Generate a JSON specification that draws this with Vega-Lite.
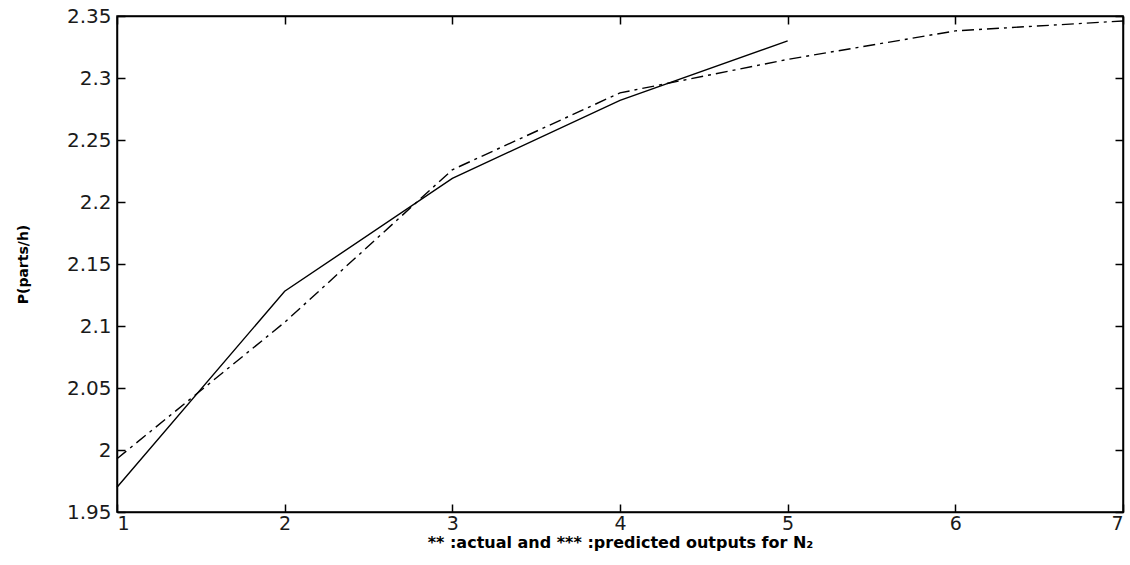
{
  "$schema": "https://vega.github.io/schema/vega-lite/v6.json",
  "width": 1006,
  "height": 496,
  "autosize": "none",
  "padding": {"left": 117, "top": 16, "right": 7, "bottom": 53},
  "background": "white",
  "config": {
    "view": {"stroke": "black", "strokeWidth": 1.5},
    "axis": {
      "grid": false,
      "domainColor": "black",
      "domainWidth": 1.5,
      "tickColor": "black",
      "tickWidth": 1.5,
      "labelFont": "DejaVu Sans",
      "labelFontSize": 20,
      "labelColor": "#1a1a1a",
      "titleFont": "DejaVu Sans",
      "titleFontWeight": "bold",
      "titleColor": "black"
    }
  },
  "data": {
    "values": [
      {"x": 1, "y": 1.970, "series": "actual"},
      {"x": 2, "y": 2.128, "series": "actual"},
      {"x": 3, "y": 2.219, "series": "actual"},
      {"x": 4, "y": 2.282, "series": "actual"},
      {"x": 5, "y": 2.330, "series": "actual"},
      {"x": 1, "y": 1.993, "series": "predicted"},
      {"x": 2, "y": 2.103, "series": "predicted"},
      {"x": 3, "y": 2.226, "series": "predicted"},
      {"x": 4, "y": 2.288, "series": "predicted"},
      {"x": 5, "y": 2.315, "series": "predicted"},
      {"x": 6, "y": 2.338, "series": "predicted"},
      {"x": 7, "y": 2.346, "series": "predicted"}
    ]
  },
  "resolve": {"axis": {"x": "independent", "y": "independent"}},
  "layer": [
    {
      "transform": [{"filter": "datum.series === 'actual'"}],
      "mark": {"type": "line", "color": "black", "strokeWidth": 1.4},
      "encoding": {
        "x": {
          "field": "x", "type": "quantitative",
          "scale": {"domain": [1, 7], "nice": false, "zero": false},
          "axis": {
            "values": [1, 2, 3, 4, 5, 6, 7], "format": "d",
            "tickSize": -8, "labelPadding": 10, "labelFontSize": 19,
            "title": "** :actual and *** :predicted outputs for N₂",
            "titleFontSize": 16, "titlePadding": 1
          }
        },
        "y": {
          "field": "y", "type": "quantitative",
          "scale": {"domain": [1.95, 2.35], "nice": false, "zero": false},
          "axis": {
            "values": [1.95, 2, 2.05, 2.1, 2.15, 2.2, 2.25, 2.3, 2.35], "format": "~g",
            "tickSize": -8, "labelPadding": 14,
            "title": "P(parts/h)", "titleFontSize": 14, "titlePadding": 36
          }
        }
      }
    },
    {
      "transform": [{"filter": "datum.series === 'predicted'"}],
      "mark": {"type": "line", "color": "black", "strokeWidth": 1.4, "strokeDash": [12, 5, 3, 5]},
      "encoding": {
        "x": {
          "field": "x", "type": "quantitative",
          "scale": {"domain": [1, 7], "nice": false, "zero": false},
          "axis": {"orient": "top", "values": [1, 2, 3, 4, 5, 6, 7], "labels": false, "tickSize": -8, "title": null}
        },
        "y": {
          "field": "y", "type": "quantitative",
          "scale": {"domain": [1.95, 2.35], "nice": false, "zero": false},
          "axis": {"orient": "right", "values": [1.95, 2, 2.05, 2.1, 2.15, 2.2, 2.25, 2.3, 2.35], "labels": false, "tickSize": -8, "title": null}
        }
      }
    }
  ]
}
